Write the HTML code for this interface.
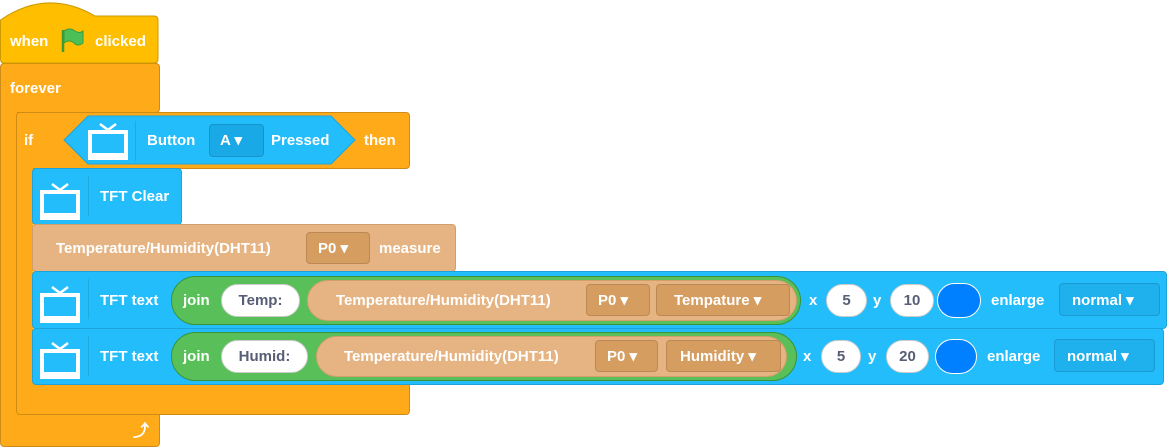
<!DOCTYPE html>
<html><head><style>
body{margin:0;width:1169px;height:448px;background:#fff;position:relative;overflow:hidden;font-family:"Liberation Sans",Arial,sans-serif;font-weight:bold;font-size:15px;color:#fff}
div{position:absolute;box-sizing:border-box}
.t{white-space:nowrap;line-height:20px;margin-top:1px}
.or{background:#FFAB19;border:1px solid #CF8B17}
.bl{background:#24BDFB;border:1px solid #1FA3DB;border-radius:4px}
.tan{background:#E6B482;border:1px solid #D29F6A}
.dd{border-radius:4px;border:1px solid rgba(0,0,0,.12)}
.pill{background:#fff;border:1px solid #ccc;border-radius:17px;color:#575E75;text-align:center;line-height:31px}
.sep{width:1px;background:rgba(0,0,0,.1)}
</style></head><body>
<div class="or" style="left:0;top:63px;width:160px;height:50px;border-radius:4px"></div>
<div class="or" style="left:0;top:100px;width:17px;height:340px;border-right:none;border-top:none;border-bottom:none"></div>
<div class="or" style="left:0;top:414px;width:160px;height:33px;border-radius:0 0 4px 4px;border-top:none"></div>
<div class="t" style="left:10px;top:78px">forever</div>
<div class="t" style="left:133px;top:421px;font-size:16px">⤴</div>
<svg style="position:absolute;left:0;top:0" width="160" height="65"><path d="M0.5 20 Q47 -12 95 16 H154 Q158 16 158 20 V59 Q158 63 154 63 H4 Q0.5 63 0.5 59Z" fill="#FFBF00" stroke="#CC9900"/>
<path d="M63 30 V52" stroke="#3D9B3D" stroke-width="2.5"/><path d="M64 31 Q70 27 75 31 Q80 34 83 31 V43 Q78 47 74 43 Q69 39 64 43Z" fill="#4CBF56" stroke="#3D9B3D"/></svg>
<div class="t" style="left:10px;top:31px">when</div>
<div class="t" style="left:95px;top:31px">clicked</div>
<div class="or" style="left:16px;top:112px;width:394px;height:57px;border-radius:4px"></div>
<div class="or" style="left:16px;top:160px;width:17px;height:230px;border-top:none;border-bottom:none;border-right:none"></div>
<div class="or" style="left:16px;top:382px;width:394px;height:33px;border-radius:0 0 4px 4px;border-top:none"></div>
<div class="t" style="left:24px;top:130px">if</div>
<svg style="position:absolute;left:63px;top:115px" width="294" height="51"><path d="M1 25 L25 1 H268 L292 25 L268 49 H25Z" fill="#24BDFB" stroke="#1FA3DB"/></svg>
<div class="dd" style="left:209px;top:124px;width:55px;height:33px;background:#19A9E6"></div>
<div class="t" style="left:220px;top:130px">A ▾</div>
<div class="t" style="left:147px;top:130px">Button</div>
<div class="t" style="left:271px;top:130px">Pressed</div>
<div class="t" style="left:364px;top:130px">then</div>
<div class="sep" style="left:135px;top:121px;height:40px"></div>
<div class="bl" style="left:32px;top:168px;width:150px;height:57px"></div>
<div class="t" style="left:100px;top:186px">TFT Clear</div>
<div class="sep" style="left:88px;top:176px;height:40px"></div>
<div class="tan" style="left:32px;top:224px;width:424px;height:48px;border-radius:4px"></div>
<div class="dd" style="left:306px;top:232px;width:64px;height:32px;background:#D69D60"></div>
<div class="t" style="left:56px;top:238px">Temperature/Humidity(DHT11)</div>
<div class="t" style="left:318px;top:238px">P0 ▾</div>
<div class="t" style="left:379px;top:238px">measure</div>
<div class="bl" style="left:32px;top:271px;width:1135px;height:58px"></div>
<div class="sep" style="left:88px;top:279px;height:40px"></div>
<div class="t" style="left:100px;top:290px">TFT text</div>
<div style="left:171px;top:276px;width:630px;height:49px;background:#59C059;border:1px solid #389438;border-radius:25px"></div>
<div class="t" style="left:183px;top:290px">join</div>
<div class="pill" style="left:221px;top:284px;width:79px;height:33px">Temp:</div>
<div class="tan" style="left:307px;top:280px;width:490px;height:41px;border-radius:21px"></div>
<div class="t" style="left:336px;top:290px">Temperature/Humidity(DHT11)</div>
<div class="dd" style="left:586px;top:284px;width:64px;height:32px;background:#D69D60"></div>
<div class="t" style="left:598px;top:290px">P0 ▾</div>
<div class="dd" style="left:656px;top:284px;width:134px;height:32px;background:#D69D60"></div>
<div class="t" style="left:674px;top:290px">Tempature ▾</div>
<div class="t" style="left:809px;top:290px">x</div>
<div class="pill" style="left:826px;top:284px;width:41px;height:33px">5</div>
<div class="t" style="left:873px;top:290px">y</div>
<div class="pill" style="left:890px;top:284px;width:44px;height:33px">10</div>
<div style="left:937px;top:283px;width:44px;height:35px;border-radius:18px;background:#0080FF;border:1px solid #fff"></div>
<div class="t" style="left:991px;top:290px">enlarge</div>
<div class="dd" style="left:1059px;top:283px;width:101px;height:33px;background:#1FB0EE"></div>
<div class="t" style="left:1072px;top:290px">normal ▾</div>
<div class="bl" style="left:32px;top:328px;width:1132px;height:57px"></div>
<div class="sep" style="left:88px;top:336px;height:40px"></div>
<div class="t" style="left:100px;top:346px">TFT text</div>
<div style="left:171px;top:332px;width:626px;height:49px;background:#59C059;border:1px solid #389438;border-radius:25px"></div>
<div class="t" style="left:183px;top:346px">join</div>
<div class="pill" style="left:221px;top:340px;width:87px;height:33px">Humid:</div>
<div class="tan" style="left:316px;top:336px;width:471px;height:41px;border-radius:21px"></div>
<div class="t" style="left:344px;top:346px">Temperature/Humidity(DHT11)</div>
<div class="dd" style="left:595px;top:340px;width:63px;height:32px;background:#D69D60"></div>
<div class="t" style="left:607px;top:346px">P0 ▾</div>
<div class="dd" style="left:666px;top:340px;width:115px;height:32px;background:#D69D60"></div>
<div class="t" style="left:680px;top:346px">Humidity ▾</div>
<div class="t" style="left:803px;top:346px">x</div>
<div class="pill" style="left:821px;top:340px;width:40px;height:33px">5</div>
<div class="t" style="left:868px;top:346px">y</div>
<div class="pill" style="left:886px;top:340px;width:43px;height:33px">20</div>
<div style="left:935px;top:339px;width:42px;height:35px;border-radius:18px;background:#0080FF;border:1px solid #fff"></div>
<div class="t" style="left:987px;top:346px">enlarge</div>
<div class="dd" style="left:1054px;top:339px;width:101px;height:33px;background:#1FB0EE"></div>
<div class="t" style="left:1067px;top:346px">normal ▾</div>
<svg style="position:absolute;left:0;top:0" width="140" height="448">
<defs><g id="tv"><path d="M12 0 L20 6 L28 0" stroke="#fff" stroke-width="2.5" fill="none"/><rect x="2" y="8" width="36" height="26" fill="#24BDFB" stroke="#fff" stroke-width="4"/><rect x="2" y="29" width="36" height="5" fill="#fff"/></g></defs>
<use href="#tv" x="88" y="124"/>
<use href="#tv" x="40" y="184"/>
<use href="#tv" x="40" y="287"/>
<use href="#tv" x="40" y="343"/>
</svg>
</body></html>
